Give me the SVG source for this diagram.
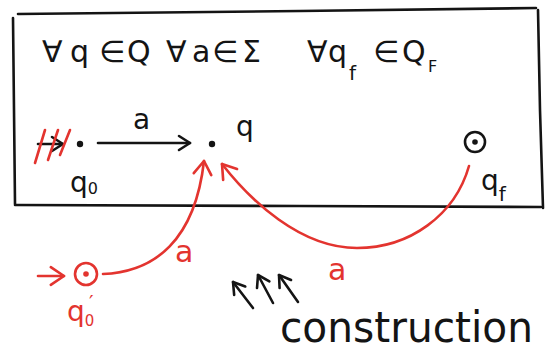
<svg xmlns="http://www.w3.org/2000/svg" width="554" height="354" viewBox="0 0 554 354">
<style>
.ink{fill:none;stroke:#141414;stroke-width:2.6;stroke-linecap:round;stroke-linejoin:round}
.red{fill:none;stroke:#e3342f;stroke-width:2.6;stroke-linecap:round;stroke-linejoin:round}
.t{font-family:"DejaVu Sans","Liberation Sans",sans-serif;fill:#141414}
.tr{font-family:"DejaVu Sans","Liberation Sans",sans-serif;fill:#e3342f}
.dot{fill:#141414}
.rdot{fill:#e3342f}
</style>
<defs>
<marker id="hk" viewBox="0 0 20 20" refX="17" refY="10" markerWidth="20" markerHeight="20" markerUnits="userSpaceOnUse" orient="auto">
<path d="M6,3 L17,10 L6,17" fill="none" stroke="#141414" stroke-width="2.6" stroke-linecap="round" stroke-linejoin="round"/>
</marker>
<marker id="hr" viewBox="0 0 20 20" refX="17" refY="10" markerWidth="22" markerHeight="22" markerUnits="userSpaceOnUse" orient="auto">
<path d="M5,2 L17,10 L5,18" fill="none" stroke="#e3342f" stroke-width="2.4" stroke-linecap="round" stroke-linejoin="round"/>
</marker>
</defs>
<rect width="554" height="354" fill="#ffffff"/>
<g id="frame">
<path class="ink" d="M18,14 L300,11 L536,8"/>
<path class="ink" d="M538,10 L540,110 L543,208"/>
<path class="ink" d="M541,207 L300,206 L15,205"/>
<path class="ink" d="M13,18 L14,110 L15,204"/>
</g>
<text class="t" y="62" font-size="30"><tspan x="42">∀</tspan><tspan x="70">q</tspan><tspan x="99">∈</tspan><tspan x="127">Q</tspan><tspan x="166">∀</tspan><tspan x="192">a</tspan><tspan x="212">∈</tspan><tspan x="242">Σ</tspan><tspan x="307">∀</tspan><tspan x="328">q</tspan><tspan x="349" y="80" font-size="20">f</tspan><tspan x="373" y="62">∈</tspan><tspan x="402">Q</tspan><tspan x="428" y="72" font-size="16">F</tspan></text>
<g id="connectors">
<path class="ink" d="M38,144 L63,144" marker-end="url(#hk)"/>
<path class="ink" d="M98,143 L190,143" marker-end="url(#hk)"/>
<path class="red" d="M35,163 L45,130 M48,160 L58,130 M60,155 L70,130"/>
<path class="red" d="M38,276 L64,276" marker-end="url(#hr)"/>
<path class="red" d="M103,274 C155,272 195,240 204,161" marker-end="url(#hr)"/>
<path class="red" d="M469,166 C455,215 410,248 357,248 C300,248 250,200 222,164" marker-end="url(#hr)"/>
<path class="ink" d="M253,308 L233,282" marker-end="url(#hk)"/>
<path class="ink" d="M273,303 L258,275" marker-end="url(#hk)"/>
<path class="ink" d="M298,302 L279,275" marker-end="url(#hk)"/>
</g>
<g id="q0">
<circle class="dot" cx="80" cy="144" r="3.2"/>
<text class="t" x="70" y="192" font-size="28">q<tspan y="194" font-size="16">0</tspan></text>
</g>
<g id="q">
<circle class="dot" cx="212" cy="144" r="3.2"/>
<text class="t" x="236" y="136" font-size="28">q</text>
</g>
<g id="qf">
<circle class="ink" cx="475" cy="142" r="10"/>
<circle class="dot" cx="475" cy="142" r="2.8"/>
<text class="t" x="481" y="190" font-size="28">q<tspan y="201" font-size="20">f</tspan></text>
</g>
<g id="q0prime">
<circle class="red" cx="86" cy="274" r="11"/>
<circle class="rdot" cx="86" cy="274" r="2.8"/>
<text class="tr" x="67" y="321" font-size="28">q<tspan y="326" font-size="15">0</tspan><tspan x="89" y="309" font-size="20">′</tspan></text>
</g>
<text class="t" x="133" y="129" font-size="28">a</text>
<text class="tr" x="175" y="262" font-size="30">a</text>
<text class="tr" x="328" y="280" font-size="30">a</text>
<text class="t" x="280" y="342" font-size="42" textLength="253" lengthAdjust="spacingAndGlyphs">construction</text>
</svg>
